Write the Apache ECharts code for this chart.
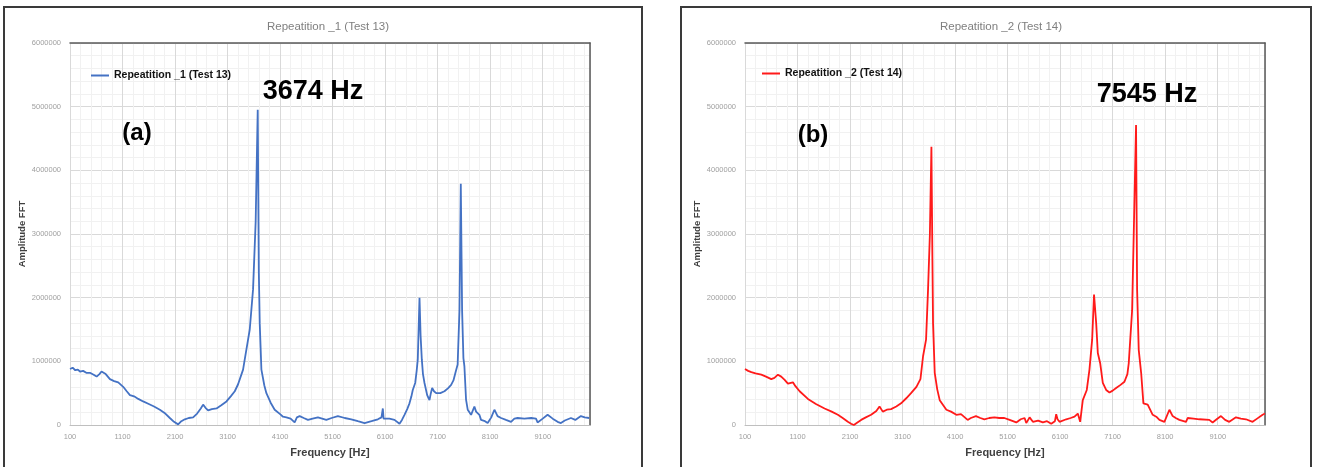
<!DOCTYPE html>
<html>
<head>
<meta charset="utf-8">
<script src="https://cdn.jsdelivr.net/npm/echarts@6/dist/echarts.min.js"></script>
<style>
html,body{margin:0;padding:0;background:#fff;}
#chart{width:1317px;height:467px;}
</style>
</head>
<body>
<div id="chart"></div>
<script>
// ---- data ----
const titles = ['Repeatition _1 (Test 13)', 'Repeatition _2 (Test 14)'];
const peakLabels = ['3674 Hz', '7545 Hz'];
const panelLabels = ['(a)', '(b)'];
const xTickLabels = ['100','1100','2100','3100','4100','5100','6100','7100','8100','9100'];
const yTickLabels = ['0','1000000','2000000','3000000','4000000','5000000','6000000'];
const xName = 'Frequency [Hz]';
const yName = 'Amplitude FFT';

const freq1 = [100,150,200,250,290,350,410,480,550,607,660,700,733,780,860,940,1018,1113,1180,1241,1320,1400,1493,1600,1700,1811,1900,2001,2080,2159,2220,2286,2360,2444,2520,2590,2634,2680,2729,2800,2889,2980,3079,3160,3237,3300,3332,3395,3427,3490,3522,3585,3635,3674,3695,3712,3744,3800,3839,3920,3997,4029,4100,4155,4220,4300,4377,4420,4472,4550,4630,4720,4820,4900,4980,5080,5200,5330,5455,5580,5708,5840,5961,6030,6056,6070,6088,6180,6278,6373,6420,6468,6520,6563,6600,6626,6672,6700,6721,6754,6775,6798,6820,6849,6900,6944,6970,6995,7030,7071,7150,7229,7300,7356,7400,7438,7480,7515,7540,7565,7590,7609,7640,7672,7736,7799,7831,7894,7926,8000,8052,8120,8180,8240,8307,8400,8497,8560,8623,8750,8880,8972,9002,9100,9193,9290,9383,9447,9520,9637,9720,9827,9900,9985];
const amp1 = [880000,900000,860000,870000,840000,850000,820000,820000,790000,760000,800000,840000,860000,800000,720000,690000,670000,600000,530000,470000,450000,410000,370000,330000,290000,240000,190000,110000,50000,10000,60000,90000,110000,120000,180000,260000,320000,270000,230000,250000,260000,310000,370000,450000,530000,640000,670000,870000,1030000,1340000,1500000,2130000,3200000,4950000,2400000,1600000,870000,620000,500000,350000,240000,210000,170000,130000,120000,100000,40000,120000,140000,110000,80000,100000,120000,100000,80000,110000,140000,110000,90000,60000,30000,60000,90000,120000,260000,100000,80000,100000,80000,20000,80000,160000,250000,340000,450000,550000,660000,850000,1030000,2000000,1400000,1030000,800000,660000,470000,390000,500000,580000,530000,500000,500000,530000,580000,630000,700000,820000,950000,1800000,3790000,1800000,1050000,920000,400000,240000,160000,290000,210000,160000,80000,60000,30000,120000,240000,140000,110000,80000,50000,100000,110000,100000,110000,100000,40000,100000,160000,100000,50000,30000,70000,110000,80000,140000,120000,110000];

const freq2 = [100,160,220,300,410,500,600,660,727,790,855,917,1012,1060,1140,1298,1450,1615,1750,1868,1960,2058,2120,2172,2240,2311,2400,2501,2600,2661,2723,2800,2881,2980,3071,3170,3261,3364,3389,3440,3490,3547,3585,3620,3649,3668,3680,3712,3760,3807,3934,4022,4124,4212,4339,4400,4497,4580,4657,4750,4847,4940,5037,5138,5265,5350,5423,5455,5518,5581,5680,5771,5850,5930,6000,6025,6050,6088,6216,6300,6373,6436,6481,6531,6607,6658,6709,6745,6786,6817,6862,6912,6976,7039,7100,7166,7250,7324,7380,7406,7470,7545,7565,7596,7642,7685,7720,7767,7862,7930,7990,8085,8180,8242,8300,8370,8497,8527,8640,8750,8940,9003,9080,9162,9240,9320,9447,9540,9637,9764,9850,9954,10000];
const amp2 = [880000,850000,830000,810000,790000,760000,720000,740000,790000,760000,710000,650000,670000,610000,530000,410000,330000,260000,210000,160000,110000,50000,20000,0,40000,80000,120000,160000,220000,290000,210000,240000,250000,290000,340000,420000,500000,600000,620000,720000,1080000,1340000,2130000,3000000,4370000,2600000,1600000,820000,560000,390000,240000,210000,160000,170000,80000,110000,140000,110000,90000,110000,120000,110000,110000,80000,40000,90000,110000,30000,120000,50000,70000,40000,60000,20000,60000,170000,90000,50000,90000,110000,130000,180000,50000,390000,550000,870000,1340000,2050000,1600000,1130000,970000,660000,550000,510000,540000,580000,630000,680000,800000,970000,1800000,4710000,2130000,1180000,820000,340000,340000,320000,160000,130000,80000,50000,240000,140000,110000,80000,50000,110000,100000,90000,80000,40000,90000,140000,80000,50000,120000,100000,90000,50000,100000,160000,180000];

// ---- layout ----
const FONT = '"Liberation Sans", Arial, sans-serif';
const panels = [
  {box: [4, 7, 638, 480], plotLeft: 70, center: 323, legendLeft: 86, legendTop: 65,
   peak: [313, 92], tag: [137, 133], color: '#4472C4'},
  {box: [681, 7, 630, 480], plotLeft: 745, center: 996, legendLeft: 757, legendTop: 63,
   peak: [1147, 95], tag: [813, 135], color: '#FF1A1A'}
];
const plotTop = 43, plotW = 520, plotH = 382;

const seriesData = [
  freq1.map((f, i) => [f, amp1[i]]),
  freq2.map((f, i) => [f, amp2[i]])
];

const option = {
  backgroundColor: '#fff',
  animation: false,
  title: [], legend: [], grid: [], xAxis: [], yAxis: [], series: [], graphic: []
};

panels.forEach((p, k) => {
  option.title.push({
    text: titles[k], left: p.center, top: 16, textAlign: 'center',
    textStyle: {fontFamily: FONT, fontSize: 11.5, fontWeight: 'normal', color: '#7f7f7f'}
  });
  option.grid.push({left: p.plotLeft, top: plotTop, width: plotW, height: plotH, containLabel: false});
  // display x axis (ticks 100, 1100, ...)
  option.xAxis.push({
    gridIndex: k, type: 'value', min: 0, max: 9900, interval: 1000, position: 'bottom',
    axisLine: {show: true, lineStyle: {color: '#bfbfbf', width: 1}},
    axisTick: {show: false},
    axisLabel: {
      formatter: v => (Number.isInteger(v / 1000) && xTickLabels[v / 1000]) ? xTickLabels[v / 1000] : '',
      color: '#a0a0a0', fontSize: 7.5, fontFamily: FONT, margin: 8, showMaxLabel: false
    },
    splitLine: {show: true, lineStyle: {color: '#d9d9d9', width: 1}},
    minorTick: {show: false, splitNumber: 5},
    minorSplitLine: {show: true, lineStyle: {color: '#f1f1f1', width: 1}},
    name: xName, nameLocation: 'middle', nameGap: 22,
    nameTextStyle: {fontFamily: FONT, fontSize: 11, fontWeight: 'bold', color: '#404040'}
  });
  // data x axis (frequency), drawn as the dark top frame line
  option.xAxis.push({
    gridIndex: k, type: 'value', min: 100, max: 10000, position: 'top',
    axisLine: {show: true, onZero: false, lineStyle: {color: '#595959', width: 1.5}},
    axisTick: {show: false}, axisLabel: {show: false}, splitLine: {show: false}
  });
  option.yAxis.push({
    gridIndex: k, type: 'value', min: 0, max: 6000000, interval: 1000000, position: 'left',
    axisLine: {show: false}, axisTick: {show: false},
    axisLabel: {formatter: v => yTickLabels[Math.round(v / 1000000)] || '', color: '#a0a0a0',
      fontSize: 7.5, fontFamily: FONT, margin: 9},
    splitLine: {show: true, lineStyle: {color: '#d9d9d9', width: 1}},
    minorTick: {show: false, splitNumber: 5},
    minorSplitLine: {show: true, lineStyle: {color: '#f1f1f1', width: 1}},
    name: yName, nameLocation: 'middle', nameGap: 43,
    nameTextStyle: {fontFamily: FONT, fontSize: 9.5, fontWeight: 'bold', color: '#404040'}
  });
  option.yAxis.push({
    gridIndex: k, type: 'value', min: 0, max: 6000000, position: 'right',
    axisLine: {show: true, onZero: false, lineStyle: {color: '#595959', width: 1.5}},
    axisTick: {show: false}, axisLabel: {show: false}, splitLine: {show: false}
  });
  option.series.push({
    name: titles[k], type: 'line', xAxisIndex: 2 * k + 1, yAxisIndex: 2 * k,
    data: seriesData[k], symbol: 'none', smooth: false,
    lineStyle: {color: p.color, width: 1.8}, itemStyle: {color: p.color}, z: 5
  });
  option.legend.push({
    data: [{name: titles[k], icon: 'rect'}], left: p.legendLeft, top: p.legendTop,
    itemWidth: 18, itemHeight: 2, itemGap: 4,
    itemStyle: {color: p.color},
    textStyle: {fontFamily: FONT, fontSize: 10.5, fontWeight: 'bold', color: '#111'},
    selectedMode: false
  });
  option.graphic.push({
    type: 'rect', silent: true, z: 100,
    shape: {x: p.box[0], y: p.box[1], width: p.box[2], height: p.box[3]},
    style: {fill: 'none', stroke: '#3a3a3a', lineWidth: 2}
  });
  option.graphic.push({
    type: 'text', silent: true, z: 100, x: p.peak[0], y: p.peak[1],
    style: {text: peakLabels[k], font: 'bold 27px ' + FONT, fill: '#000', align: 'center', verticalAlign: 'middle'}
  });
  option.graphic.push({
    type: 'text', silent: true, z: 100, x: p.tag[0], y: p.tag[1],
    style: {text: panelLabels[k], font: 'bold 24px ' + FONT, fill: '#000', align: 'center', verticalAlign: 'middle'}
  });
});

const chart = echarts.init(document.getElementById('chart'), null, {renderer: 'canvas'});
chart.setOption(option);
</script>
</body>
</html>
